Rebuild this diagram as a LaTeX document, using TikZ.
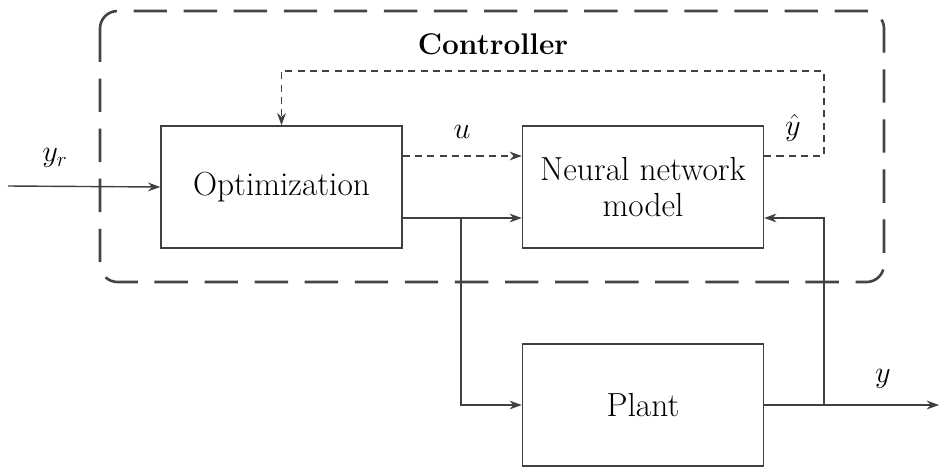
\documentclass[tikz,border=0pt]{standalone}
\usetikzlibrary{arrows.meta}

\definecolor{linegray}{HTML}{404040}
\definecolor{boxgray}{HTML}{444444}

\tikzstyle{block} = [align=center, draw=linegray, line width=0.8pt, rectangle, minimum height=2.44cm, minimum width=4.82cm, font=\fontsize{19}{21}\selectfont]
\tikzstyle{wire} = [draw=linegray, line width=0.8pt]
\tikzstyle{ctrlbox} = [draw=boxgray, line width=1.5pt, dash pattern=on 19pt off 9.5pt, rounded corners=0.35cm]
\tikzstyle{lbl} = [font=\fontsize{18}{20}\selectfont]

\begin{document}
\begin{tikzpicture}[x=0.02cm,y=-0.02cm,>={Stealth[length=7pt,width=5pt]}]
            \useasboundingbox (0,0) rectangle (939,467);
            %
            % The controller boundary and its title
            \draw [ctrlbox] (100,11) rectangle (884,282);
            \node [font=\fontsize{17}{20}\selectfont\bfseries] (title) at (493,44) {Controller};
            %
            % We start by placing the blocks
            \node [block] (opt) at (281.5,187) {Optimization};
            \node [block] (nn) at (643,187) {Neural network\\model};
            \node [block] (plant) at (643,405) {Plant};
            %
            % Points where the wires turn or split
            \coordinate (in) at (8,186);
            \coordinate (fbtop) at (824,71);
            \coordinate (split) at (461,218);
            \coordinate (tap) at (824,405);
            \coordinate (out) at (939,405);
            %
            % Once the nodes are placed, connecting them is easy.
            \draw [wire,->] (in) -- (opt.west);
            \draw [wire,->,dash pattern=on 4pt off 3pt] ([yshift=0.62cm]opt.east) -- ([yshift=0.62cm]nn.west);
            \draw [wire,->,dash pattern=on 4pt off 3pt] ([yshift=0.62cm]nn.east) -| (fbtop) -| (opt.north);
            \draw [wire,->] ([yshift=-0.62cm]opt.east) -- ([yshift=-0.62cm]nn.west);
            \draw [wire,->] (split) |- (plant.west);
            \draw [wire,->] (plant.east) -- (out);
            \draw [wire,->] (tap) |- ([yshift=-0.62cm]nn.east);
            %
            % Signal labels
            \node [lbl] (yr) at (55,158) {$y_r$};
            \node [lbl] (ulbl) at (462,132) {$u$};
            \node [lbl] (yhat) at (793,128) {$\hat{y}$};
            \node [lbl] (ylbl) at (883,379) {$y$};
            %
\end{tikzpicture}
\end{document}
